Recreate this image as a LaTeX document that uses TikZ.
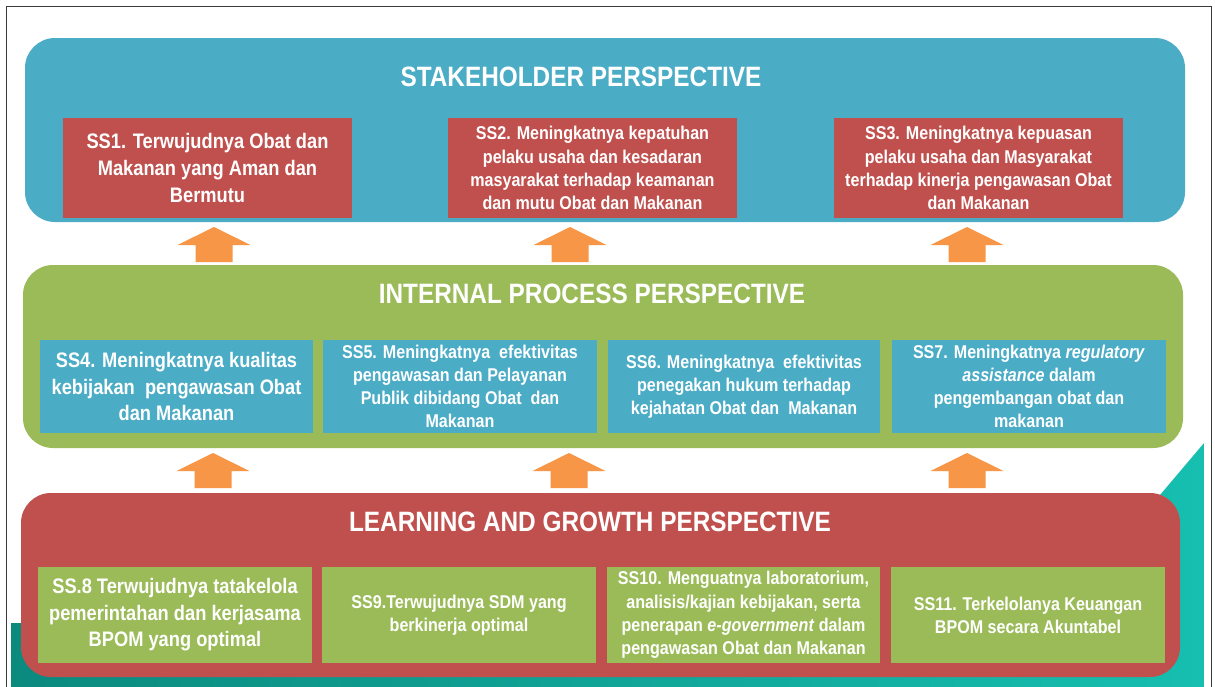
\documentclass[tikz,border=0pt]{standalone}
\usepackage{fontspec}
\setmainfont{Liberation Sans}[FakeStretch=0.87]
\definecolor{pblue}{HTML}{4BACC6}
\definecolor{pred}{HTML}{C0504D}
\definecolor{pgreen}{HTML}{9BBB59}
\definecolor{porange}{HTML}{F79646}
\definecolor{tealA}{HTML}{0B8A7E}
\definecolor{tealB}{HTML}{34DCD2}
\definecolor{tealC}{HTML}{16BFB0}
\definecolor{framegray}{HTML}{3A3A3A}
\begin{document}
\begin{tikzpicture}[x=0.5pt,y=-0.5pt,
  panel/.style={rounded corners=15pt, inner sep=0pt, minimum width=580pt, minimum height=92pt},
  ptitle/.style={text=white, font=\bfseries\fontsize{14}{16}\selectfont, inner sep=0pt},
  box/.style={inner sep=0pt, text=white, align=center},
  bigtxt/.style={font=\bfseries\fontsize{10.5}{13.3}\selectfont},
  smalltxt/.style={font=\bfseries\fontsize{9.25}{11.6}\selectfont},
  topbox/.style={box, fill=pred, minimum width=144.5pt, minimum height=50pt},
  midbox/.style={box, fill=pblue, minimum height=46.5pt},
  lowbox/.style={box, fill=pgreen, minimum width=137pt, minimum height=48pt},
  uparrow/.pic={\fill[porange] (-9.25pt,0pt) -- (-9.25pt,8.5pt) -- (-18.25pt,8.5pt) -- (0pt,17.5pt) -- (18.25pt,8.5pt) -- (9.25pt,8.5pt) -- (9.25pt,0pt) -- cycle;}
]
\useasboundingbox (0,0) rectangle (1215,686);
\fill[white] (0,0) rectangle (1215,686);
% teal background decoration
\shade[left color=tealA, middle color=tealB, right color=tealC]
  (11,623) -- (300,623) -- (1160,495) -- (1204,443) -- (1204,690) -- (11,690) -- cycle;
% frame
\draw[framegray, line width=0.75pt] (6.5,692) -- (6.5,6.5) -- (1211.5,6.5) -- (1211.5,692);

% panels
\node[panel, fill=pblue] (stake) at (605,130) {};
\node[panel, fill=pgreen, minimum height=91.5pt] (internal) at (603,356.5) {};
\node[panel, fill=pred, minimum width=579.5pt] (learning) at (600.5,585) {};

\node[ptitle] (t1) at (581,77) {STAKEHOLDER PERSPECTIVE};
\node[ptitle] (t2) at (592,294) {INTERNAL PROCESS PERSPECTIVE};
\node[ptitle] (t3) at (590,522) {LEARNING AND GROWTH PERSPECTIVE};

% stakeholder boxes
\node[topbox, bigtxt] (ss1) at (207.5,168) {SS1. Terwujudnya Obat dan\\Makanan yang Aman dan\\Bermutu};
\node[topbox, smalltxt] (ss2) at (592.5,168) {SS2. Meningkatnya kepatuhan\\pelaku usaha dan kesadaran\\masyarakat terhadap keamanan\\dan mutu Obat dan Makanan};
\node[topbox, smalltxt] (ss3) at (978.5,168) {SS3. Meningkatnya kepuasan\\pelaku usaha dan Masyarakat\\terhadap kinerja pengawasan Obat\\dan Makanan};

% internal boxes
\node[midbox, bigtxt, minimum width=136.5pt] (ss4) at (176.5,386.5) {SS4. Meningkatnya kualitas\\kebijakan\ \ pengawasan Obat\\dan Makanan};
\node[midbox, smalltxt, minimum width=137pt] (ss5) at (460,386.5) {SS5. Meningkatnya\ \ efektivitas\\pengawasan dan Pelayanan\\Publik dibidang Obat\ \ dan\\Makanan};
\node[midbox, smalltxt, minimum width=136pt] (ss6) at (744,386.5) {SS6. Meningkatnya\ \ efektivitas\\penegakan hukum terhadap\\kejahatan Obat dan\ \ Makanan};
\node[midbox, smalltxt, minimum width=137pt] (ss7) at (1029,386.5) {SS7. Meningkatnya \textit{regulatory}\\\textit{assistance} dalam\\pengembangan obat dan\\makanan};

% learning boxes
\node[lowbox, bigtxt] (ss8) at (175,615) {SS.8 Terwujudnya tatakelola\\pemerintahan dan kerjasama\\BPOM yang optimal};
\node[lowbox, smalltxt] (ss9) at (459,615) {SS9.Terwujudnya SDM yang\\berkinerja optimal};
\node[lowbox, smalltxt, minimum width=136.5pt] (ss10) at (743.5,615) {SS10. Menguatnya laboratorium,\\analisis/kajian kebijakan, serta\\penerapan \textit{e-government} dalam\\pengawasan Obat dan Makanan};
\node[lowbox, smalltxt] (ss11) at (1028,615) {SS11. Terkelolanya Keuangan\\BPOM secara Akuntabel};

% arrows
\pic (a1) at (214,262) {uparrow};
\pic (a2) at (570,262) {uparrow};
\pic (a3) at (967,262) {uparrow};
\pic (a4) at (213,488) {uparrow};
\pic (a5) at (569,488) {uparrow};
\pic (a6) at (967,488) {uparrow};
\end{tikzpicture}
\end{document}
